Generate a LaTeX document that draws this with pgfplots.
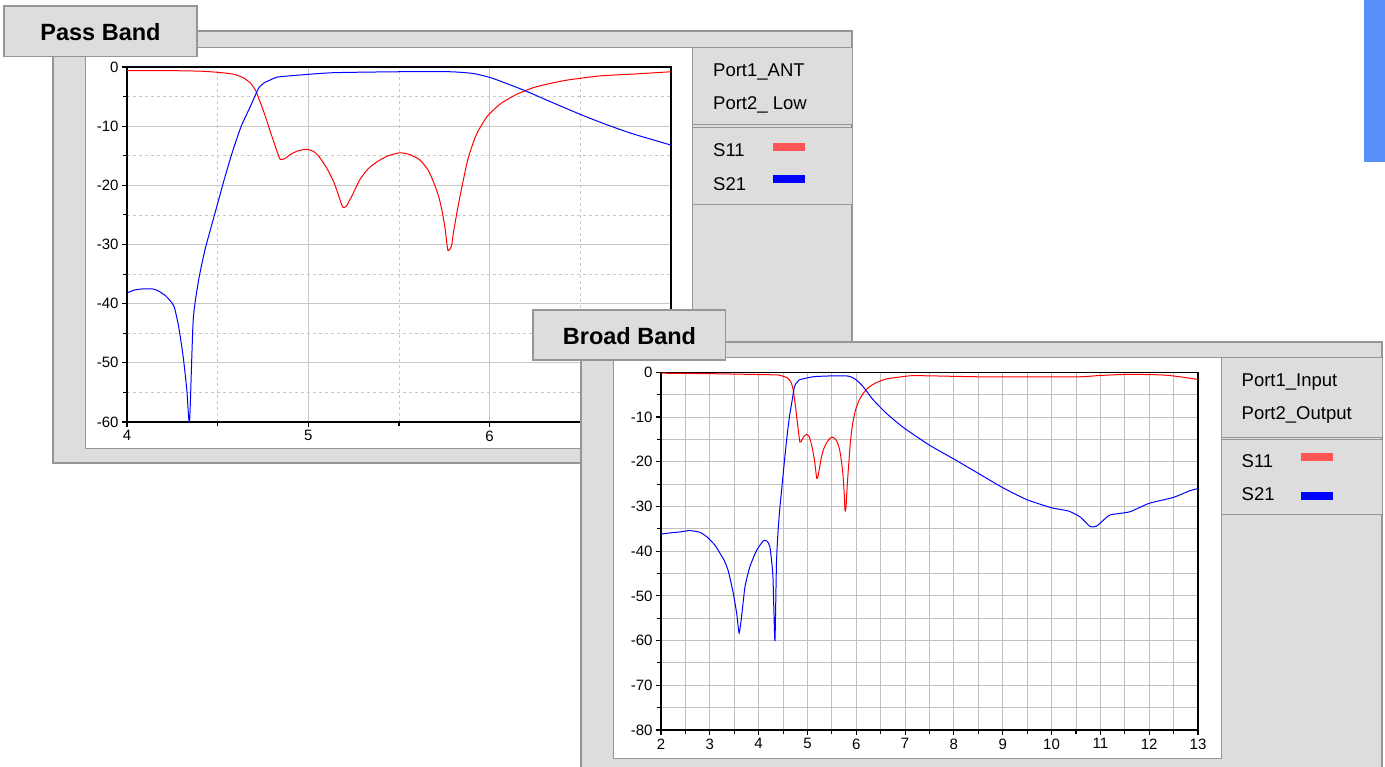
\documentclass[border=0pt]{standalone}
\usepackage{fontspec}
\setmainfont{Liberation Sans}
\usepackage{pgfplots}
\pgfplotsset{compat=1.18}
\definecolor{panelgray}{RGB}{221,221,221}
\definecolor{edgegray}{RGB}{150,150,150}
\definecolor{s11red}{RGB}{255,0,0}
\definecolor{s21blue}{RGB}{0,0,255}
\definecolor{legred}{RGB}{255,85,85}
\definecolor{barblue}{RGB}{90,143,250}
\definecolor{gridgray}{RGB}{200,200,200}
\definecolor{gridgray2}{RGB}{192,192,192}

\pgfplotsset{
  sparam/.style={
    scale only axis,
    grid=both,
    axis line style={black, line width=1.3pt},
    tick style={black, line width=1.1pt},
    tick align=outside, tick pos=left,
    major tick length=5pt, minor tick length=4pt,
    ticklabel style={font=\fontsize{15}{18}\selectfont},
    /pgf/number format/assume math mode=true,
    clip=true,
  }
}

\begin{document}
\begin{tikzpicture}
\begin{scope}[x=1pt,y=-1pt]
\fill[white] (0,0) rectangle (1385,767);
\fill[barblue] (1364,0) rectangle (1385,162);
% ---------- Pass Band panel
\filldraw[fill=panelgray, draw=edgegray, line width=1.5pt] (53,31) rectangle (852,463);
\filldraw[fill=white, draw=edgegray, line width=1pt] (85,47.5) rectangle (692.5,448);
\filldraw[fill=panelgray, draw=edgegray, line width=1pt] (692.5,47.5) rectangle (852,125);
\filldraw[fill=panelgray, draw=edgegray, line width=1pt] (692.5,127.5) rectangle (852,205);
\node[anchor=base west, inner sep=0pt, font=\fontsize{18.5}{22}\selectfont] at (713,77) {Port1\_ANT};
\node[anchor=base west, inner sep=0pt, font=\fontsize{18.5}{22}\selectfont] at (713,110) {Port2\_ Low};
\node[anchor=base west, inner sep=0pt, font=\fontsize{18.5}{22}\selectfont] at (713,157) {S11};
\node[anchor=base west, inner sep=0pt, font=\fontsize{18.5}{22}\selectfont] at (713,191) {S21};
\fill[legred] (773,143) rectangle (805,151);
\fill[s21blue] (773,175) rectangle (805,183);
\filldraw[fill=panelgray, draw=edgegray, line width=1.5pt] (4,6) rectangle (197,56.5);
\node[font=\fontsize{23.5}{28}\selectfont\bfseries] at (100.5,32.5) {Pass Band};
\end{scope}

\begin{axis}[sparam,
  at={(127pt,-422pt)}, anchor=south west,
  width=544pt, height=355pt,
  xmin=4, xmax=7, ymin=-60, ymax=0,
  xtick={4,5,6,7}, minor xtick={4.5,5.5,6.5},
  ytick={-60,-50,-40,-30,-20,-10,0}, minor ytick={-55,-45,-35,-25,-15,-5},
  major grid style={draw=gridgray, line width=0.9pt},
  minor grid style={draw=gridgray, dashed, line width=0.6pt},
]
\addplot[s11red, line width=1pt, smooth, tension=0.35] coordinates {
(4.0,-0.6) (4.2,-0.6) (4.4,-0.7) (4.5,-0.9) (4.585,-1.2) (4.64,-1.8) (4.68,-2.7)
(4.71,-4.0) (4.73,-5.6) (4.75,-7.2) (4.77,-9) (4.80,-11.8) (4.83,-14.5) (4.845,-15.6)
(4.87,-15.5) (4.90,-14.8) (4.94,-14.2) (4.99,-13.9) (5.03,-14.3) (5.06,-15.2) (5.10,-17)
(5.14,-19.4) (5.17,-22) (5.19,-23.7) (5.21,-23.5) (5.24,-21.8) (5.285,-19) (5.33,-17.2)
(5.38,-16) (5.44,-15) (5.505,-14.5) (5.56,-14.8) (5.615,-15.7) (5.66,-17.4) (5.69,-19.4)
(5.72,-22) (5.74,-24.7) (5.755,-27.5) (5.77,-31) (5.79,-30.2) (5.80,-28) (5.82,-24.5)
(5.84,-21.3) (5.875,-16.2) (5.90,-13.6) (5.93,-11.2) (5.985,-8.4) (6.06,-6.2) (6.15,-4.6)
(6.24,-3.5) (6.33,-2.8) (6.43,-2.2) (6.61,-1.5) (6.79,-1.2) (7.0,-0.8)};
\addplot[s21blue, line width=1pt, smooth, tension=0.35] coordinates {
(4.0,-38.2) (4.04,-37.7) (4.09,-37.5) (4.14,-37.5) (4.17,-37.8) (4.21,-38.6) (4.235,-39.4)
(4.26,-40.5) (4.285,-43.9) (4.31,-49) (4.33,-54.6) (4.345,-60) (4.365,-42.8) (4.395,-36)
(4.43,-30.9) (4.46,-27.5) (4.495,-23.6) (4.54,-18.6) (4.585,-14) (4.63,-10) (4.68,-6.7)
(4.71,-4.6) (4.73,-3.4) (4.76,-2.6) (4.79,-2.2) (4.83,-1.7) (4.955,-1.35) (5.14,-0.96)
(5.505,-0.8) (5.78,-0.8) (5.88,-1.0) (5.92,-1.15) (6.0,-1.75) (6.06,-2.4) (6.195,-4.0)
(6.33,-5.8) (6.515,-8.2) (6.65,-9.8) (6.79,-11.3) (7.0,-13.2)};
\end{axis}

\begin{scope}[x=1pt,y=-1pt]
% ---------- Broad Band panel
\filldraw[fill=panelgray, draw=edgegray, line width=1.5pt] (581,342) rectangle (1382,800);
\filldraw[fill=white, draw=edgegray, line width=1pt] (613,358) rectangle (1221,758);
\filldraw[fill=panelgray, draw=edgegray, line width=1pt] (1221,358) rectangle (1382,437);
\filldraw[fill=panelgray, draw=edgegray, line width=1pt] (1221,439.5) rectangle (1382,514);
\node[anchor=base west, inner sep=0pt, font=\fontsize{18.5}{22}\selectfont] at (1241.5,387) {Port1\_Input};
\node[anchor=base west, inner sep=0pt, font=\fontsize{18.5}{22}\selectfont] at (1241.5,419.5) {Port2\_Output};
\node[anchor=base west, inner sep=0pt, font=\fontsize{18.5}{22}\selectfont] at (1241.5,467) {S11};
\node[anchor=base west, inner sep=0pt, font=\fontsize{18.5}{22}\selectfont] at (1241.5,500) {S21};
\fill[legred] (1301,453) rectangle (1333,461);
\fill[s21blue] (1301,492) rectangle (1333,500);
\filldraw[fill=panelgray, draw=edgegray, line width=1.5pt] (533,310) rectangle (725.5,360);
\node[font=\fontsize{23.5}{28}\selectfont\bfseries] at (629.5,336) {Broad Band};
\end{scope}

\begin{axis}[sparam,
  at={(661pt,-730pt)}, anchor=south west,
  width=537pt, height=357.7pt,
  xmin=2, xmax=13, ymin=-80, ymax=0,
  xtick={2,3,...,13}, minor xtick={2.5,3.5,...,12.5},
  ytick={-80,-70,-60,-50,-40,-30,-20,-10,0}, minor ytick={-75,-65,-55,-45,-35,-25,-15,-5},
  major grid style={draw=gridgray2, line width=0.9pt},
  minor grid style={draw=gridgray2, line width=0.9pt},
]
\addplot[s11red, line width=1pt, smooth, tension=0.35] coordinates {
(2.0,-0.2) (3.0,-0.3) (4.0,-0.5) (4.4,-0.6) (4.5,-0.9) (4.585,-1.2) (4.64,-1.8) (4.68,-2.7)
(4.71,-4.0) (4.73,-5.6) (4.75,-7.2) (4.77,-9) (4.80,-11.8) (4.83,-14.5) (4.845,-15.6)
(4.87,-15.5) (4.90,-14.8) (4.94,-14.2) (4.99,-13.9) (5.03,-14.3) (5.06,-15.2) (5.10,-17)
(5.14,-19.4) (5.17,-22) (5.19,-23.7) (5.21,-23.5) (5.24,-21.8) (5.285,-19) (5.33,-17.2)
(5.38,-16) (5.44,-15) (5.505,-14.5) (5.56,-14.8) (5.615,-15.7) (5.66,-17.4) (5.69,-19.4)
(5.72,-22) (5.74,-24.7) (5.755,-27.5) (5.77,-31) (5.79,-30.2) (5.80,-28) (5.82,-24.5)
(5.84,-21.3) (5.875,-16.2) (5.90,-13.6) (5.93,-11.2) (5.985,-8.4) (6.06,-6.2) (6.15,-4.6)
(6.24,-3.5) (6.33,-2.8) (6.43,-2.2) (6.61,-1.5) (6.79,-1.2) (7.16,-0.75) (8.0,-0.9)
(8.53,-1) (9.5,-1) (10.58,-1) (11.0,-0.7) (11.6,-0.45) (12.28,-0.6) (12.63,-1) (13.0,-1.6)};
\addplot[s21blue, line width=1pt, smooth, tension=0.35] coordinates {
(2.0,-36.2) (2.2,-35.9) (2.39,-35.7) (2.59,-35.4) (2.8,-35.8) (2.94,-36.8) (3.1,-38.6)
(3.21,-40.5) (3.3,-42.2) (3.38,-44.5) (3.48,-49.4) (3.55,-53.9) (3.60,-58.3) (3.65,-54.7)
(3.72,-48) (3.82,-43.5) (3.96,-39.8) (4.095,-37.7) (4.165,-37.7) (4.23,-39) (4.29,-45)
(4.31,-52.4) (4.335,-60) (4.365,-42.8) (4.395,-36) (4.43,-30.9) (4.46,-27.5) (4.495,-23.6)
(4.54,-18.6) (4.585,-14) (4.63,-10) (4.68,-6.7) (4.71,-4.6) (4.73,-3.4) (4.76,-2.6)
(4.79,-2.2) (4.83,-1.7) (4.955,-1.35) (5.14,-0.96) (5.505,-0.8) (5.8,-0.8) (5.9,-1.05)
(6.0,-1.7) (6.14,-3.2) (6.35,-6.2) (6.62,-9.2) (6.96,-12.3) (7.5,-16.3) (8.0,-19.4)
(8.5,-22.6) (9.0,-25.8) (9.5,-28.5) (10.0,-30.3) (10.34,-31) (10.58,-32.3) (10.79,-34.5)
(10.92,-34.4) (11.05,-33.2) (11.2,-31.9) (11.6,-31.2) (12.0,-29.3) (12.49,-28)
(12.83,-26.5) (13.0,-26)};
\end{axis}
\pgfresetboundingbox
\path[use as bounding box] (0pt,0pt) rectangle (1385pt,-767pt);
\end{tikzpicture}
\end{document}
